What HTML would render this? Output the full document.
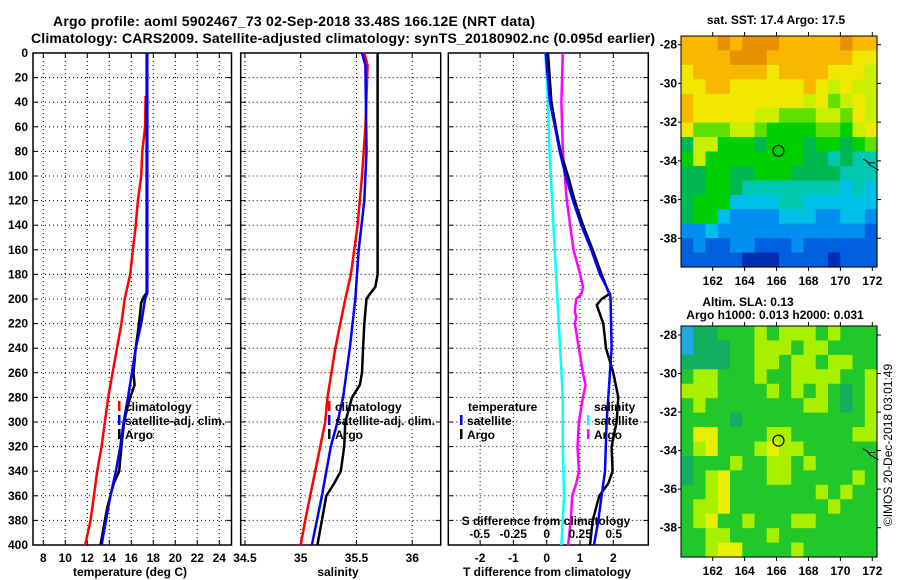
<!DOCTYPE html>
<html><head><meta charset="utf-8"><style>
body{margin:0;background:#fff}
svg{display:block}
text{font-family:"Liberation Sans",sans-serif;font-weight:bold;fill:#000}
</style></head><body>
<svg id="fig" width="900" height="580" viewBox="0 0 900 580" xmlns="http://www.w3.org/2000/svg">
<text x="294" y="26" font-size="14" text-anchor="middle" textLength="482">Argo profile: aoml 5902467_73 02-Sep-2018 33.48S 166.12E (NRT data)</text>
<text x="343" y="43" font-size="14" text-anchor="middle" textLength="624">Climatology: CARS2009. Satellite-adjusted climatology: synTS_20180902.nc (0.095d earlier)</text>
<g id="panels"></g>
<g id="maps"></g>
<text transform="translate(892,445) rotate(-90)" font-size="12" text-anchor="middle" style="font-weight:normal">©IMOS 20-Dec-2018 03:01:49</text>
</svg>
<script>
// ---- depth axis ----
const depthTicks = [0,20,40,60,80,100,120,140,160,180,200,220,240,260,280,300,320,340,360,380,400];
// ---- temperature panel ----
const tTicks = [8,10,12,14,16,18,20,22,24];
const tClimDepth = [35,60,80,100,120,140,160,180,200,220,240,260,280,300,320,340,360,380,400];
const tClimVal  = [17.3,17.25,17.0,16.9,16.6,16.4,16.15,15.9,15.4,15.1,14.7,14.3,13.9,13.6,13.3,12.9,12.6,12.3,11.8];
const tSatDepth = [0,100,195,200,220,240,260,280,300,320,340,360,380,400];
const tSatVal   = [17.45,17.45,17.45,17.25,16.9,16.4,16.05,15.7,15.3,15.0,14.6,14.1,13.7,13.3];
const tArgoDepth= [0,100,195,198,203,220,240,260,270,280,290,300,320,340,350,360,370,380,390,400];
const tArgoVal  = [17.4,17.4,17.4,17.15,16.9,16.7,16.4,16.2,16.3,15.9,15.6,15.35,15.1,14.9,14.4,14.1,13.8,13.6,13.4,13.2];
// ---- salinity panel ----
const sTicks = [34.5,35,35.5,36];
const sClimDepth = [0,10,60,100,140,180,200,240,280,300,340,380,400];
const sClimVal   = [35.57,35.6,35.58,35.55,35.51,35.45,35.40,35.31,35.24,35.22,35.13,35.04,35.0];
const sSatDepth  = [0,10,80,120,160,200,240,280,300,320,360,400];
const sSatVal    = [35.55,35.58,35.59,35.57,35.52,35.49,35.44,35.38,35.33,35.27,35.19,35.1];
const sArgoDepth = [0,180,190,196,200,220,240,260,270,280,300,320,340,350,360,380,400];
const sArgoVal   = [35.69,35.69,35.67,35.62,35.59,35.57,35.56,35.55,35.53,35.46,35.40,35.39,35.36,35.30,35.23,35.19,35.15];
// ---- difference panel ----
const dTTicks = [-2,-1,0,1,2];
const dSTicks = [-0.5,-0.25,0,0.25,0.5];
const dSTickLabels = ['-0.5','-0.25','0','0.25','0.5'];
const dTSatDepth = [0,40,60,80,100,120,140,160,180,196,200,240,280,300,340,360,380,400];
const dTSatVal   = [-0.03,0.1,0.25,0.39,0.57,0.79,1.04,1.34,1.6,1.9,1.92,1.95,1.85,1.8,1.75,1.65,1.55,1.42];
const dTArgoDepth= [0,40,60,80,100,120,140,160,180,196,200,205,220,240,260,280,300,320,340,350,360,380,400];
const dTArgoVal  = [0.04,0.14,0.27,0.41,0.64,0.84,1.09,1.38,1.65,1.88,1.65,1.5,1.7,1.78,2.0,2.15,2.1,1.95,1.98,1.85,1.58,1.38,1.3];
const dSSatDepth = [0,40,80,120,160,200,240,280,320,360,400];
const dSSatVal   = [-0.01,0.01,0.02,0.04,0.06,0.08,0.10,0.12,0.12,0.13,0.11];
const dSArgoDepth= [0,40,80,120,160,180,190,196,200,210,215,220,240,260,270,280,300,320,340,350,360,380,400];
const dSArgoVal  = [0.12,0.11,0.12,0.15,0.20,0.25,0.27,0.26,0.22,0.21,0.22,0.21,0.24,0.27,0.29,0.27,0.24,0.23,0.24,0.22,0.19,0.18,0.16];

const NS='http://www.w3.org/2000/svg';
function mk(tag, attrs, parent, txt){const e=document.createElementNS(NS,tag);for(const k in attrs)e.setAttribute(k,attrs[k]);if(txt!==undefined)e.textContent=txt;parent.appendChild(e);return e;}
const Y0=53, Y1=545;
const yD = d => Y0 + d*(Y1-Y0)/400;
const xT = t => 43.3 + (t-8)*11.0;
const xS = s => 300.7 + (s-35)*111.5;
const xDT = t => 546.7 + t*33.3;
const xDS = s => 546.7 + s*134;
const root = document.getElementById('panels');

function panel(name,x0,x1,xticks,xf,labels){
  const g=mk('g',{},root);
  
  
  for(const d of depthTicks){ if(d===0||d===400) continue;
    const l=mk('line',{x1:x0,x2:x1,y1:yD(d),y2:yD(d),stroke:'#000','stroke-width':1,'stroke-dasharray':'1,3'},g);
    
    
    mk('line',{x1:x0,x2:x0+5,y1:yD(d),y2:yD(d),stroke:'#000'},g);
    mk('line',{x1:x1-5,x2:x1,y1:yD(d),y2:yD(d),stroke:'#000'},g);
  }
  xticks.forEach((v,i)=>{ const x=xf(v);
    const l=mk('line',{x1:x,x2:x,y1:Y0,y2:Y1,stroke:'#000','stroke-width':1,'stroke-dasharray':'1,3'},g);
    
    
    mk('line',{x1:x,x2:x,y1:Y1-5,y2:Y1,stroke:'#000'},g);
    mk('line',{x1:x,x2:x,y1:Y0,y2:Y0+5,stroke:'#000'},g);
    if(labels){const t=mk('text',{x:x,y:562,'font-size':12,'text-anchor':'middle'},g,labels[i]);
      
      }
  });
  const r=mk('rect',{x:x0,y:Y0,width:x1-x0,height:Y1-Y0,fill:'none',stroke:'#000','stroke-width':1.5},g);
  
  
  return g;
}
function line(g,xf,dep,val,color,name,w){
  const pts=dep.map((d,i)=>xf(val[i]).toFixed(1)+','+yD(d).toFixed(1)).join(' ');
  const p=mk('polyline',{points:pts,fill:'none',stroke:color,'stroke-width':w||2.5,'stroke-linejoin':'round'},g);
  
  
}
function leg(g,x,y,color,label){
  mk('rect',{x:x,y:y-10,width:2.5,height:10,fill:color},g);
  const t=mk('text',{x:x+7,y:y,'font-size':12},g,label);
  
  
}
depthTicks.forEach(d=>{const t=mk('text',{x:28,y:yD(d)+4,'font-size':12,'text-anchor':'end'},root,String(d));
  
  });

// panel 1
const g1=panel('temperature-panel',33,231.5,tTicks,xT,tTicks.map(String));
line(g1,xT,tClimDepth,tClimVal,'#f00','temp-climatology-line');
line(g1,xT,tArgoDepth,tArgoVal,'#000','temp-argo-line');
line(g1,xT,tSatDepth,tSatVal,'#00f','temp-satellite-line');
leg(g1,118,411,'#f00','climatology');leg(g1,118,425,'#00f','satellite-adj. clim.');leg(g1,118,439,'#000','Argo');
let t=mk('text',{x:130,y:576,'font-size':12,'text-anchor':'middle'},root,'temperature (deg C)');


// panel 2
const g2=panel('salinity-panel',240.7,440.7,sTicks,xS,sTicks.map(String));
line(g2,xS,sClimDepth,sClimVal,'#f00','sal-climatology-line');
line(g2,xS,sArgoDepth,sArgoVal,'#000','sal-argo-line');
line(g2,xS,sSatDepth,sSatVal,'#00f','sal-satellite-line');
leg(g2,328,411,'#f00','climatology');leg(g2,328,425,'#00f','satellite-adj. clim.');leg(g2,328,439,'#000','Argo');
t=mk('text',{x:338,y:576,'font-size':12,'text-anchor':'middle'},root,'salinity');


// panel 3
const g3=panel('difference-panel',448.3,648.3,dTTicks,xDT,dTTicks.map(String));
line(g3,xDS,dSSatDepth,dSSatVal,'#0ff','sdiff-satellite-line');
line(g3,xDS,dSArgoDepth,dSArgoVal,'#f0f','sdiff-argo-line');
line(g3,xDT,dTArgoDepth,dTArgoVal,'#000','tdiff-argo-line');
line(g3,xDT,dTSatDepth,dTSatVal,'#00f','tdiff-satellite-line');
t=mk('text',{x:468,y:411,'font-size':12},g3,'temperature');

leg(g3,460,425,'#00f','satellite');leg(g3,460,439,'#000','Argo');
t=mk('text',{x:594,y:411,'font-size':12},g3,'salinity');

leg(g3,587,425,'#0ff','satellite');leg(g3,587,439,'#f0f','Argo');
t=mk('text',{x:546,y:525,'font-size':12,'text-anchor':'middle'},g3,'S difference from climatology');

dSTicks.forEach((v,i)=>{const tt=mk('text',{x:xDS(v),y:538,'font-size':12,'text-anchor':'middle'},g3,dSTickLabels[i]);
  });
t=mk('text',{x:547,y:576,'font-size':12,'text-anchor':'middle'},root,'T difference from climatology');


// ---- maps ----
const sstPal={a:'#e89000',b:'#f8b800',c:'#f0e800',d:'#c8f000',e:'#60e000',f:'#00d000',g:'#00b850',h:'#00c8b0',i:'#00c0e8',j:'#0090f0',k:'#0060e0',l:'#0030b0'};
const sstGrid=["bbbabaaabbbbbabb","bbbbaaabbbbbbbcc","cbbbbbbcbbbbcccd","ccbbccccccbcdcdd","bcccccccccdcedcd","bcccccddeeeddecd","ceeeddeffffeefdc","gddfffgfffgffgfe","fdffffffffgghghh","ggffggfffgggghhh","ggffghhhhhhhhihi","gfffiiiihhiiiiii","gffijjjjiiijjiij","jjijjjjjjjjjjjjk","kjkkjjkkkjkkkkkk","kkkkklllkkkklkkk"];
const slaPal={g:'#22c82a',p:'#a8f000',y:'#e8f000',t:'#10b060',u:'#20a8e0'};
const slaGrid=["uttgggpgpppgpggg","utttggpppgppgggg","ttttggppgppgppgg","gppgggpggppppggp","pppggggpgpgpgtgp","gpggggggggppgtgp","ggggtggggggggggp","gyyggggppgggggpp","gpygggpyppgggggg","tgggpggppgpggggg","tgpygggppgggggpg","ggpygggggggpgpgg","gppyggggggggpggg","gpyggpgggppggggg","ggppgggpgggggggg","ggpyyggggpgggggg"];
const lonTicks=[162,164,166,168,170,172];
const latTicks=[-28,-30,-32,-34,-36,-38];
const argoLon=166.12, argoLat=-33.48;
const mroot=document.getElementById('maps');
function map(name,x0,y0,x1,y1,grid,pal,lat28y,lat38y,labY){
  const g=mk('g',{},mroot);
  
  
  const n=grid.length,m=grid[0].length,cw=(x1-x0)/m,ch=(y1-y0)/n;
  grid.forEach((row,r)=>{[...row].forEach((c,k)=>{mk('rect',{x:(x0+k*cw).toFixed(2),y:(y0+r*ch).toFixed(2),width:(cw+0.6).toFixed(2),height:(ch+0.6).toFixed(2),fill:pal[c]},g);});});
  const xL=lon=>712.7+(lon-162)*15.96;
  const yL=lat=>lat28y+(-28-lat)*(lat38y-lat28y)/10;
  lonTicks.forEach(v=>{mk('line',{x1:xL(v),x2:xL(v),y1:y0-4,y2:y0,stroke:'#000'},g);mk('line',{x1:xL(v),x2:xL(v),y1:y1,y2:y1+4,stroke:'#000'},g);
    const tt=mk('text',{x:xL(v),y:labY,'font-size':12,'text-anchor':'middle'},g,String(v));
    });
  latTicks.forEach(v=>{mk('line',{x1:x1,x2:x1+4,y1:yL(v),y2:yL(v),stroke:'#000'},g);mk('line',{x1:x0-3,x2:x0,y1:yL(v),y2:yL(v),stroke:'#000'},g);
    const tt=mk('text',{x:x0-4,y:yL(v)+4,'font-size':12,'text-anchor':'end'},g,String(v));
    });
  mk('path',{d:`M${xL(171.4)} ${yL(-33.9)} l4 2 l3 4 l5 3 l4 2 M${xL(171.8)} ${yL(-34.1)} l6 0`,fill:'none',stroke:'#000','stroke-width':1},g);
  const c=mk('circle',{cx:xL(argoLon),cy:yL(argoLat),r:5.5,fill:'none',stroke:'#000','stroke-width':1.2},g);
  
  mk('rect',{x:x0,y:y0,width:x1-x0,height:y1-y0,fill:'none',stroke:'#000','stroke-width':1},g);
  return g;
}
map('sst-map',681,36,877,267,sstGrid,sstPal,44.7,238.3,285);
map('sla-map',681,326,877,557,slaGrid,slaPal,335,527.7,575);
const mt=[['sat. SST: 17.4 Argo: 17.5',776,24,'sst-map-title'],['Altim. SLA: 0.13',748,306,'sla-map-title'],['Argo h1000: 0.013 h2000: 0.031',775,319,'sla-map-subtitle']];
mt.forEach(a=>{const tt=mk('text',{x:a[1],y:a[2],'font-size':12,'text-anchor':'middle'},mroot,a[0]);
  });
</script>
</body></html>
